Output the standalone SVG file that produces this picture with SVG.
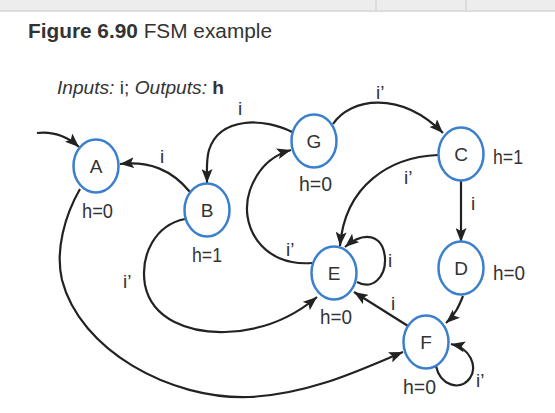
<svg xmlns="http://www.w3.org/2000/svg" width="555" height="413" viewBox="0 0 555 413">
<defs>
<marker id="arr" markerUnits="userSpaceOnUse" markerWidth="15" markerHeight="11" refX="14" refY="5.5" orient="auto">
<path d="M0,0 L14,5.5 L0,11 L3,5.5 z" fill="#222"/>
</marker>
<style>
.node ellipse{fill:#fff;stroke:#3b80cc;stroke-width:2.5}
.node text{font-family:"Liberation Sans",Arial,sans-serif;font-size:19px;fill:#333;text-anchor:middle}
.out{font-family:"Liberation Sans",Arial,sans-serif;font-size:20px;fill:#333}
.lbl{font-family:"Liberation Sans",Arial,sans-serif;font-size:19px;fill:#333}
.edge{fill:none;stroke:#222;stroke-width:2.2;marker-end:url(#arr)}
</style>
</defs>
<rect x="0" y="0" width="555" height="413" fill="#fff"/>
<rect x="0" y="0" width="555" height="10" fill="#ededed"/>
<rect x="0" y="10" width="555" height="2" fill="#dcdcdc"/>
<rect x="375" y="0" width="2" height="10" fill="#dcdcdc"/>
<rect x="465" y="0" width="2" height="10" fill="#dcdcdc"/>
<text x="28" y="38" font-family="Liberation Sans,Arial,sans-serif" font-size="20.5" fill="#333" textLength="244" lengthAdjust="spacingAndGlyphs"><tspan font-weight="bold">Figure 6.90</tspan> FSM example</text>
<text x="57" y="94" font-family="Liberation Sans,Arial,sans-serif" font-size="19" fill="#333" textLength="167" lengthAdjust="spacingAndGlyphs"><tspan font-style="italic">Inputs:</tspan> i; <tspan font-style="italic">Outputs:</tspan> <tspan font-weight="bold">h</tspan></text>
<g id="connectors">
<path class="edge" d="M37,133 C55,131 68,137 79,147"/>
<path class="edge" d="M190,192 C172,170 150,161 120,164"/>
<path class="edge" d="M292,132 C265,118 220,116 209,150 C206,160 207,172 207,183"/>
<path class="edge" d="M333,124 C350,98 400,90 443,133"/>
<path class="edge" d="M438,155 C390,157 345,185 340,246"/>
<path class="edge" d="M461,181 L461,242"/>
<path class="edge" d="M463,296 C459,306 455,315 446,323"/>
<path class="edge" d="M436,366 C440,385 460,392 470,378 C478,366 470,348 451,344"/>
<path class="edge" d="M408,326 L354,292"/>
<path class="edge" d="M357,282 C372,290 386,278 385,258 C383,235 365,230 345,247"/>
<path class="edge" d="M312,263 C262,267 238,225 250,190 C258,168 273,155 291,150"/>
<path class="edge" d="M185,219 C155,225 140,255 145,285 C152,320 190,333 225,332 C260,331 292,318 317,297"/>
<path class="edge" d="M80,189 C65,215 55,250 62,280 C80,350 170,400 250,397 C310,394 360,370 403,352"/>
<text class="lbl" x="160" y="163">i</text>
<text class="lbl" x="238" y="115">i</text>
<text class="lbl" x="376" y="99">i’</text>
<text class="lbl" x="404" y="184">i’</text>
<text class="lbl" x="471" y="210">i</text>
<text class="lbl" x="388" y="267">i</text>
<text class="lbl" x="391" y="310">i</text>
<text class="lbl" x="286" y="256">i’</text>
<text class="lbl" x="123" y="288">i’</text>
<text class="lbl" x="476" y="387">i’</text>
</g>
<g id="A" class="node"><ellipse cx="96" cy="166" rx="22.5" ry="26.5"/><text x="96" y="173">A</text></g>
<g id="B" class="node"><ellipse cx="207" cy="210" rx="22.5" ry="26.5"/><text x="207" y="217">B</text></g>
<g id="G" class="node"><ellipse cx="314" cy="141" rx="22.5" ry="26.5"/><text x="314" y="148">G</text></g>
<g id="C" class="node"><ellipse cx="461" cy="154" rx="22.5" ry="26.5"/><text x="461" y="161">C</text></g>
<g id="E" class="node"><ellipse cx="334" cy="273" rx="22.5" ry="26.5"/><text x="334" y="280">E</text></g>
<g id="D" class="node"><ellipse cx="461" cy="268" rx="22.5" ry="26.5"/><text x="461" y="275">D</text></g>
<g id="F" class="node"><ellipse cx="426" cy="342" rx="22.5" ry="26.5"/><text x="426" y="349">F</text></g>
<text class="out" x="82" y="218" textLength="31" lengthAdjust="spacingAndGlyphs">h=0</text>
<text class="out" x="192" y="262" textLength="30" lengthAdjust="spacingAndGlyphs">h=1</text>
<text class="out" x="299" y="191" textLength="33" lengthAdjust="spacingAndGlyphs">h=0</text>
<text class="out" x="493" y="164" textLength="30" lengthAdjust="spacingAndGlyphs">h=1</text>
<text class="out" x="493" y="280" textLength="32" lengthAdjust="spacingAndGlyphs">h=0</text>
<text class="out" x="320" y="324" textLength="32" lengthAdjust="spacingAndGlyphs">h=0</text>
<text class="out" x="403" y="394" textLength="33" lengthAdjust="spacingAndGlyphs">h=0</text>
</svg>
